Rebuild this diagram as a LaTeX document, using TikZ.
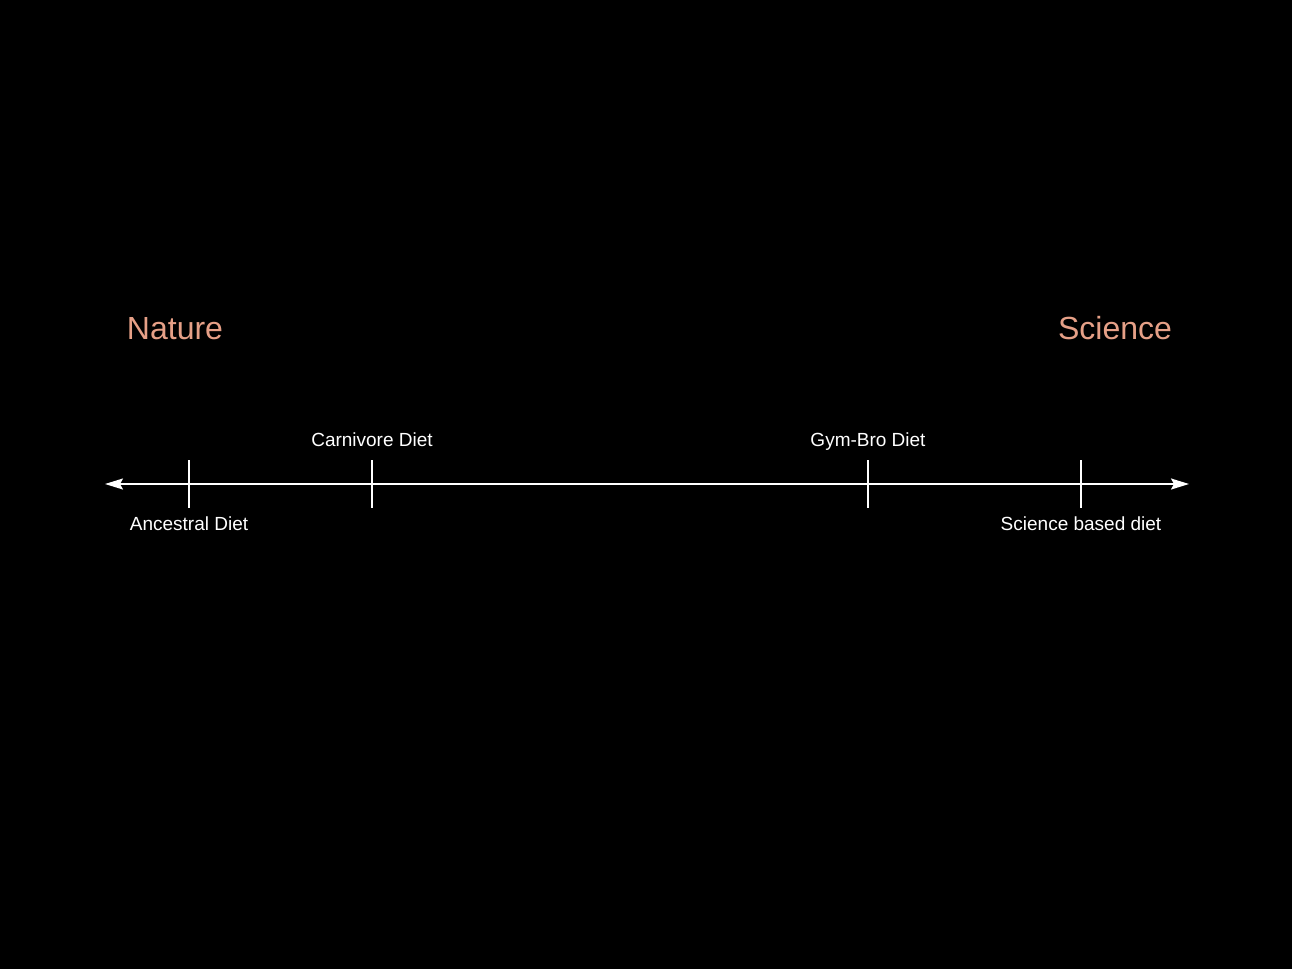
\documentclass[tikz,border=0pt]{standalone}
\usepackage{fontspec}
\setmainfont{Liberation Sans}
\usetikzlibrary{arrows.meta}
\definecolor{salmon}{RGB}{230,160,135}
\tikzset{
  axisline/.style={draw=white, line width=1.8pt, {Stealth[length=18pt,width=11pt,inset=3pt]}-{Stealth[length=18pt,width=11pt,inset=3pt]}},
  tickline/.style={draw=white, line width=1.6pt},
  pole/.style={text=salmon, font=\fontsize{32}{36}\selectfont, inner sep=0pt, anchor=base},
  lab/.style={text=white, font=\fontsize{19}{22}\selectfont, inner sep=0pt, anchor=base},
}
\begin{document}
\begin{tikzpicture}[x=1pt,y=-1pt]
\fill[black] (0,0) rectangle (1292,969);
\useasboundingbox (0,0) rectangle (1292,969);
\coordinate (L) at (105,484);
\coordinate (R) at (1189,484);
\draw[axisline] (L) -- (R);
\foreach \n/\x in {a/189,c/372,g/868,s/1081}{
  \coordinate (\n top) at (\x,460);
  \coordinate (\n bot) at (\x,508);
  \draw[tickline] (\n top) -- (\n bot);
}
\node[pole] (nature) at (175,339) {Nature};
\node[pole] (science) at (1115,339) {Science};
\node[lab] (carn) at (372,446.5) {Carnivore Diet};
\node[lab] (gym) at (868,446.5) {Gym-Bro Diet};
\node[lab] (anc) at (189,530.5) {Ancestral Diet};
\node[lab] (sci) at (1081,530.5) {Science based diet};
\end{tikzpicture}
\end{document}
